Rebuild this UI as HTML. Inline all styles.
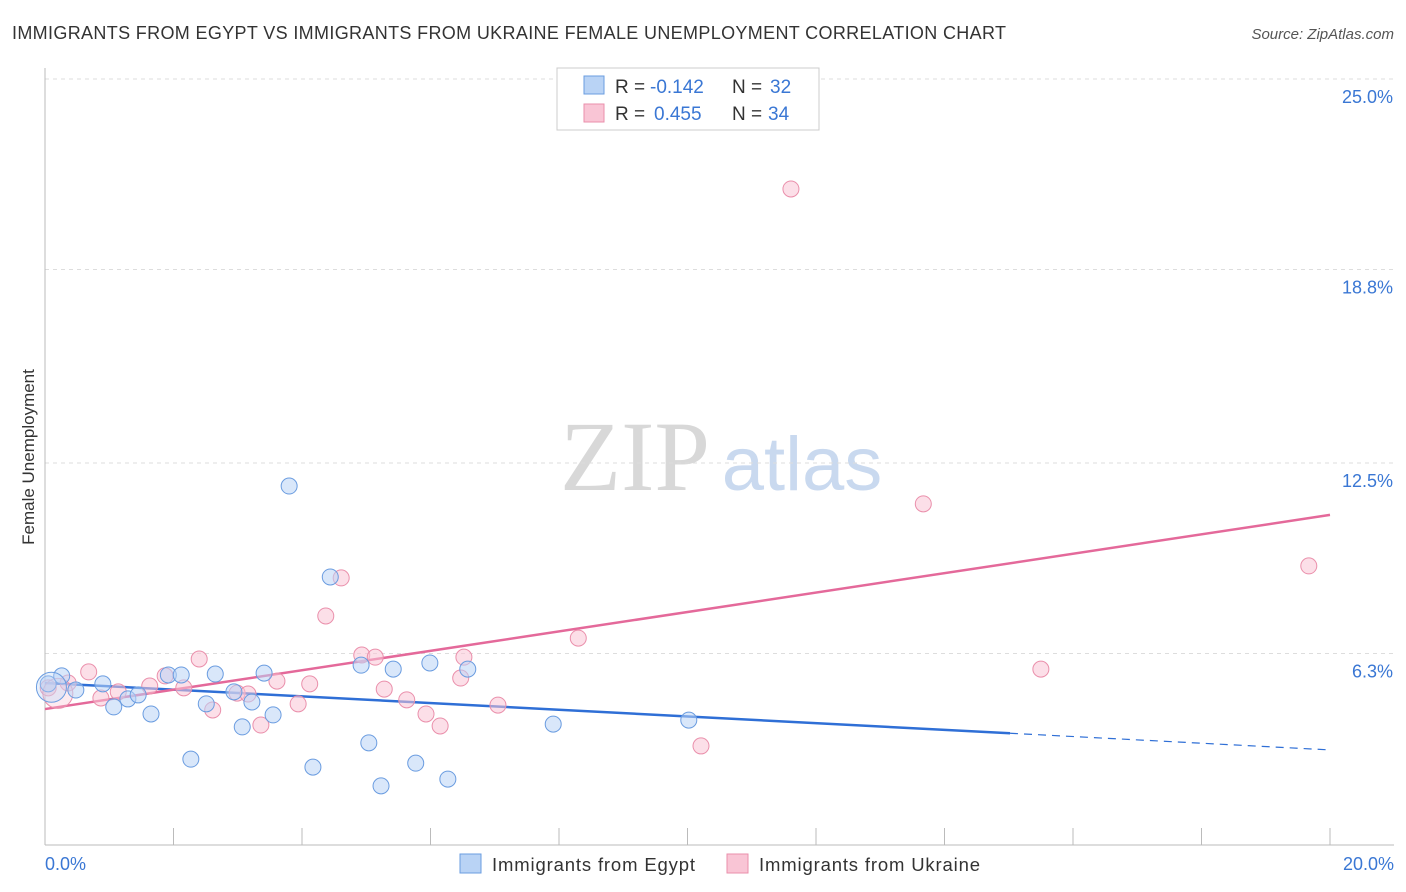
<!DOCTYPE html>
<html><head><meta charset="utf-8">
<style>
body{margin:0;background:#fff;font-family:"Liberation Sans",sans-serif;}
svg{display:block}
</style></head>
<body>
<svg id="chart" width="1406" height="892">
<text x="12" y="39" font-size="18" textLength="994" fill="#333">IMMIGRANTS FROM EGYPT VS IMMIGRANTS FROM UKRAINE FEMALE UNEMPLOYMENT CORRELATION CHART</text>
<text x="1394" y="39" font-size="15" fill="#555" font-style="italic" text-anchor="end">Source: ZipAtlas.com</text>
<text x="34" y="457" font-size="17" fill="#333" text-anchor="middle" transform="rotate(-90 34 457)">Female Unemployment</text>
<g>
<text x="635" y="490" font-size="100" fill="#d8d8d8" font-family="Liberation Serif,serif" text-anchor="middle">ZIP</text>
<text x="802" y="490" font-size="76" fill="#c9d9ef" text-anchor="middle">atlas</text>
</g>
<g id="grid"></g>
<g id="axes"></g>
<g id="lines"></g>
<g id="points"></g>
<g>
<rect x="557" y="68" width="262" height="62" fill="#fff" stroke="#ccc"/>
<rect x="584" y="76" width="20" height="18" fill="#b9d3f5" stroke="#6a9ce0"/>
<rect x="584" y="104" width="20" height="18" fill="#f9c5d5" stroke="#ea8fab"/>
<text x="615" y="93" font-size="19" fill="#333">R =</text>
<text x="650" y="93" font-size="19" fill="#3a77d4">-0.142</text>
<text x="732" y="93" font-size="19" fill="#333">N =</text>
<text x="770" y="93" font-size="19" fill="#3a77d4">32</text>
<text x="615" y="120" font-size="19" fill="#333">R =</text>
<text x="654" y="120" font-size="19" fill="#3a77d4">0.455</text>
<text x="732" y="120" font-size="19" fill="#333">N =</text>
<text x="768" y="120" font-size="19" fill="#3a77d4">34</text>
</g>
<g>
<rect x="460" y="854" width="21" height="19" fill="#b9d3f5" stroke="#6a9ce0"/>
<text x="492" y="871" font-size="18.5" textLength="203" fill="#333">Immigrants from Egypt</text>
<rect x="727" y="854" width="21" height="19" fill="#f9c5d5" stroke="#ea8fab"/>
<text x="759" y="871" font-size="18.5" textLength="221" fill="#333">Immigrants from Ukraine</text>
</g>
</svg>
<script>
const yTicks=[25,18.8,12.5,6.3];
const yTickLabels=["25.0%","18.8%","12.5%","6.3%"];
const xTickLabels=["0.0%","20.0%"];
const egyptX=[0.05,0.26,0.48,0.90,1.07,1.29,1.45,1.65,1.92,2.12,2.27,2.51,2.65,2.94,3.07,3.22,3.41,3.55,3.80,4.17,4.44,4.92,5.04,5.23,5.42,5.77,5.99,6.27,6.58,7.91,10.02,0.1];
const egyptY=[5.31,5.57,5.11,5.31,4.56,4.82,4.95,4.33,5.60,5.60,2.86,4.66,5.63,5.05,3.91,4.72,5.66,4.30,11.75,2.60,8.79,5.92,3.39,1.99,5.79,2.73,5.99,2.21,5.79,4.00,4.13,5.2];
const ukraineX=[0.05,0.36,0.68,0.87,1.14,1.63,1.87,2.16,2.40,2.61,2.99,3.16,3.36,3.61,3.94,4.12,4.37,4.61,4.93,5.14,5.28,5.63,5.93,6.15,6.47,6.52,7.05,8.30,10.21,11.61,13.67,15.50,19.67,0.2];
const ukraineY=[5.18,5.34,5.70,4.85,5.05,5.24,5.57,5.18,6.12,4.46,5.01,4.98,3.97,5.40,4.66,5.31,7.52,8.76,6.25,6.18,5.14,4.79,4.33,3.94,5.50,6.18,4.62,6.80,3.29,21.42,11.17,5.79,9.15,5.0];
const egyptTrend=[5.34,3.16], egyptSolidEnd=15.02;
const ukraineTrend=[4.49,10.81];
const NS="http://www.w3.org/2000/svg";
const sx=v=>45+v/20*1285;
const sy=v=>847-v/6.25*192;
function mk(tag,attrs,parent){const e=document.createElementNS(NS,tag);for(const k in attrs)e.setAttribute(k,attrs[k]);document.getElementById(parent).appendChild(e);return e;}
yTicks.forEach((t,i)=>{
 const l=mk('line',{x1:45,x2:1394,y1:sy(t),y2:sy(t),stroke:'#ddd','stroke-dasharray':'4,4'},'grid');
 
 
 const tx=mk('text',{x:1393,y:sy(t)+24,'font-size':18,fill:'#3a77d4','text-anchor':'end'},'grid');
 tx.textContent=yTickLabels[i];
 
 
});
mk('line',{x1:45,x2:45,y1:68,y2:845,stroke:'#bbb'},'axes');
mk('line',{x1:45,x2:1394,y1:845,y2:845,stroke:'#bbb'},'axes');
for(let i=0;i<=10;i++){const t=mk('line',{x1:sx(i*2),x2:sx(i*2),y1:828,y2:845,stroke:'#bbb'},'axes');
 
 }
[[0,'start',45],[20,'end',1394]].forEach((a,i)=>{const t=mk('text',{x:a[2],y:870,'font-size':18,fill:'#3a77d4','text-anchor':a[1]},'axes');t.textContent=xTickLabels[i];
 
 });
function pts(xs,ys,fill,stroke,name){xs.forEach((x,i)=>{const big=i===xs.length-1;
 const c=mk('circle',{cx:sx(x),cy:sy(ys[i]),r:big?15:8,fill:fill,'fill-opacity':big?0.35:0.55,stroke:stroke,'stroke-width':1},'points');
 
 });}
pts(ukraineX,ukraineY,'#f9c5d5','#ea8fab','ukraine-point');
pts(egyptX,egyptY,'#b9d3f5','#6a9ce0','egypt-point');
const eAt=x=>egyptTrend[0]+(egyptTrend[1]-egyptTrend[0])*x/20;
let l1=mk('line',{x1:sx(0),y1:sy(eAt(0)),x2:sx(egyptSolidEnd),y2:sy(eAt(egyptSolidEnd)),stroke:'#2f6fd6','stroke-width':2.5},'lines');


let l2=mk('line',{x1:sx(egyptSolidEnd),y1:sy(eAt(egyptSolidEnd)),x2:sx(20),y2:sy(eAt(20)),stroke:'#2f6fd6','stroke-width':1.2,'stroke-dasharray':'8,6'},'lines');


let l3=mk('line',{x1:sx(0),y1:sy(ukraineTrend[0]),x2:sx(20),y2:sy(ukraineTrend[1]),stroke:'#e4699a','stroke-width':2.5},'lines');


</script>
</body></html>
